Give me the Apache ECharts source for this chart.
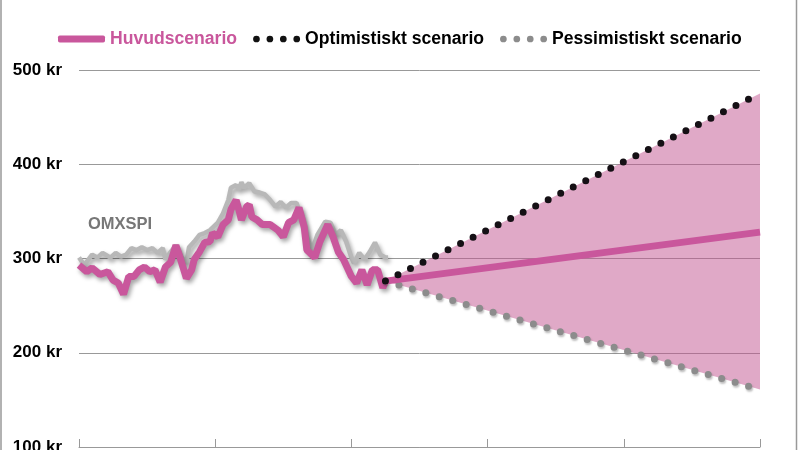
<!DOCTYPE html>
<html><head><meta charset="utf-8">
<script src="https://cdn.jsdelivr.net/npm/echarts@6/dist/echarts.min.js"></script>
<style>html,body{margin:0;padding:0;background:#fff}#c{width:800px;height:450px}</style>
</head><body><div id="c"></div><script>
// x = weeks from start of history (axis 0..260, tick every 52 weeks)
const fundWeeks = [0,3,5,8,11,13,15,17,19,21,23,25,27,29,31,33,35,37,38,40,41,43,44,46,48,50,51,53,55,57,58,60,61,62,64,65,66,68,70,73,76,78,80,82,84,86,87,90,92,95,97,99,101,104,106,108,110,112,114,116,117];
const fundValues = [293,286,290,283,286,277,274,262,281,281,288,291,286,288,275,291,296,314,306,288,279,288,299,307,317,318,327,323,336,341,352,362,352,341,355,357,344,341,336,336,330,323,338,341,354,333,309,301,318,336,323,307,299,281,274,288,272,288,288,269,276];
const omxWeeks = [0,2,5,7,9,12,14,16,18,20,22,24,26,28,30,32,33,35,37,39,41,42,44,46,48,50,53,55,57,58,60,61,62,63,65,67,69,71,73,75,77,79,81,83,85,87,89,91,94,96,98,100,102,104,105,107,109,111,113,115,117,118];
const omxValues = [301,293,304,301,306,301,306,302,304,311,309,312,309,311,306,311,299,307,314,302,295,312,318,325,327,330,338,348,362,375,378,373,381,375,380,371,370,368,362,355,360,354,359,359,344,323,309,325,339,338,325,330,318,301,295,306,299,307,317,304,301,301];
const forecastWeeks = [117, 260];
const mainForecast = [276, 328];
const optimisticForecast = [276, 475];
const pessimisticForecast = [276, 161];
const yTicks = [100, 200, 300, 400, 500];
const legendNames = ['Huvudscenario', 'Optimistiskt scenario', 'Pessimistiskt scenario'];

const pairs = (xs, ys) => xs.map((x, i) => [x, ys[i]]);
const bandData = forecastWeeks.map((x, i) => [x, optimisticForecast[i], pessimisticForecast[i]]);

const PINK = '#c9579c';
const FONT = 'Liberation Sans, Arial, Helvetica, sans-serif';
const dot = (cx) => `M${cx-3.5},3.5a3.5,3.5 0 1,0 7,0a3.5,3.5 0 1,0 -7,0Z`;
const dotsIcon = 'path://' + [3.5, 17.5, 31.5, 45.5].map(dot).join('');
const shadow = {shadowColor: 'rgba(0,0,0,0.35)', shadowBlur: 4, shadowOffsetX: 2, shadowOffsetY: 3};

const chart = echarts.init(document.getElementById('c'), null, {renderer: 'canvas'});
chart.setOption({
  animation: false,
  backgroundColor: '#fff',
  grid: {left: 79, right: 40, top: 70, bottom: 3, containLabel: false, outerBoundsMode: 'none'},
  legend: {
    left: 53, top: 25, itemGap: 16, itemWidth: 47, itemHeight: 7,
    selectedMode: false,
    itemStyle: {borderWidth: 0},
    textStyle: {fontFamily: FONT, fontWeight: 'bold', fontSize: 17.6, color: '#000'},
    data: [
      {name: legendNames[0], icon: 'roundRect', itemStyle: {color: PINK}, textStyle: {color: PINK}},
      {name: legendNames[1], icon: dotsIcon, itemStyle: {color: '#111'}},
      {name: legendNames[2], icon: dotsIcon, itemStyle: {color: '#8c8c8c'}}
    ]
  },
  xAxis: {
    type: 'value', min: 0, max: 260, interval: 52,
    axisLine: {lineStyle: {color: '#999', width: 1}},
    axisTick: {inside: true, length: 8, lineStyle: {color: '#999'}},
    axisLabel: {show: false},
    splitLine: {show: false}
  },
  yAxis: {
    type: 'value', min: yTicks[0], max: yTicks[yTicks.length - 1], interval: 100,
    axisLine: {show: false}, axisTick: {show: false},
    axisLabel: {formatter: '{value} kr', fontFamily: FONT, fontWeight: 'bold', fontSize: 17, color: '#000', margin: 17},
    splitLine: {lineStyle: {color: '#999', width: 1}}
  },
  graphic: [
    {type: 'line', shape: {x1: 1, y1: 0, x2: 1, y2: 450}, style: {stroke: '#999', lineWidth: 1.5}},
    {type: 'line', shape: {x1: 796.5, y1: 0, x2: 796.5, y2: 450}, style: {stroke: '#999', lineWidth: 1.5}},
    {type: 'text', left: 88, top: 216, style: {text: 'OMXSPI', fill: '#777', font: 'bold 16.5px ' + FONT}}
  ],
  series: [
    {name: 'band', type: 'custom', data: bandData, encode: {x: 0, y: [1, 2]}, silent: true, z: 1,
     renderItem: (params, api) => {
       if (params.dataIndex !== 0) return null;
       const pts = [];
       for (let i = 0; i < forecastWeeks.length; i++) pts.push(api.coord([forecastWeeks[i], optimisticForecast[i]]));
       for (let i = forecastWeeks.length - 1; i >= 0; i--) pts.push(api.coord([forecastWeeks[i], pessimisticForecast[i]]));
       return {type: 'polygon', shape: {points: pts}, style: {fill: '#c2548f', opacity: 0.5}};
     }},
    {name: 'OMXSPI', type: 'line', data: pairs(omxWeeks, omxValues), symbol: 'none',
     lineStyle: Object.assign({color: '#b8b8b8', width: 4.5}, shadow), z: 2},
    {name: 'Fond', type: 'line', data: pairs(fundWeeks, fundValues), symbol: 'none',
     lineStyle: Object.assign({color: PINK, width: 7}, shadow), z: 3},
    {name: legendNames[2], type: 'line', data: pairs(forecastWeeks, pessimisticForecast), symbol: 'none',
     itemStyle: {color: '#8c8c8c'},
     lineStyle: {color: '#8c8c8c', width: 7, type: [0, 14], cap: 'round', shadowColor: 'rgba(0,0,0,0.25)', shadowBlur: 2, shadowOffsetX: 1, shadowOffsetY: 2}, z: 4},
    {name: legendNames[0], type: 'line', data: pairs(forecastWeeks, mainForecast), symbol: 'none',
     itemStyle: {color: PINK}, lineStyle: {color: PINK, width: 7}, z: 5},
    {name: legendNames[1], type: 'line', data: pairs(forecastWeeks, optimisticForecast), symbol: 'none',
     itemStyle: {color: '#111'},
     lineStyle: {color: '#151015', width: 7, type: [0, 14], cap: 'round'}, z: 6}
  ]
});
</script></body></html>
